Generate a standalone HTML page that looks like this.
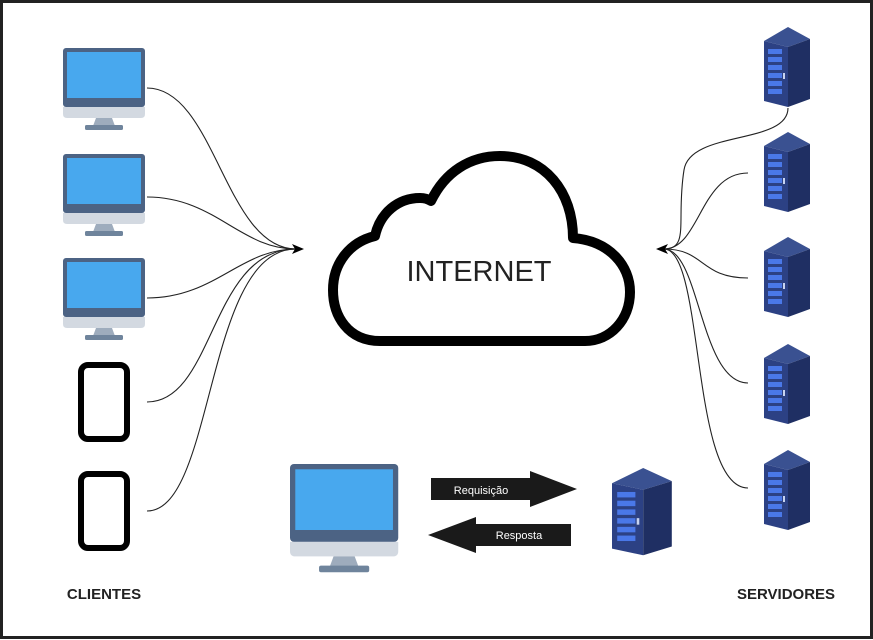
<!DOCTYPE html>
<html><head><meta charset="utf-8"><style>
html,body{margin:0;padding:0;background:#fff;}
svg{display:block;font-family:"Liberation Sans","DejaVu Sans",sans-serif;}
</style></head><body>
<svg width="873" height="640" viewBox="0 0 873 640" xmlns="http://www.w3.org/2000/svg">
<defs>
<g id="mon">
 <rect x="0" y="0" width="82" height="59" rx="3" fill="#4c6384"/>
 <rect x="4" y="4" width="74" height="46" fill="#48a8ee"/>
 <path d="M0 59 H82 V66 Q82 70 78 70 H4 Q0 70 0 66Z" fill="#d3d9e1"/>
 <polygon points="33,70 49,70 52,78 30,78" fill="#9eacbd"/>
 <rect x="22" y="77" width="38" height="5" rx="1.5" fill="#6f849c"/>
</g>
<g id="srv">
 <polygon points="0,14 24,0 46,12 24,20" fill="#3a5191"/>
 <polygon points="0,14 24,20 24,80 0,74" fill="#2c4184"/>
 <polygon points="24,20 46,12 46,72 24,80" fill="#1f2f63"/>
 <g fill="#4a78e8">
  <rect x="4" y="22" width="14" height="5"/><rect x="4" y="30" width="14" height="5"/>
  <rect x="4" y="38" width="14" height="5"/><rect x="4" y="46" width="14" height="5"/>
  <rect x="4" y="54" width="14" height="5"/><rect x="4" y="62" width="14" height="5"/>
 </g>
 <rect x="19" y="46" width="2" height="6" fill="#c8d4f0"/>
</g>
</defs>
<rect x="1.5" y="1.5" width="870" height="636" fill="#fff" stroke="#222" stroke-width="3"/>

<use href="#mon" x="63" y="48"/>
<use href="#mon" x="63" y="154"/>
<use href="#mon" x="63" y="258"/>
<rect x="81" y="365" width="46" height="74" rx="7" fill="none" stroke="#000" stroke-width="6"/>
<rect x="81" y="474" width="46" height="74" rx="7" fill="none" stroke="#000" stroke-width="6"/>

<g transform="translate(764,27)"><use href="#srv"/></g>
<g transform="translate(764,132)"><use href="#srv"/></g>
<g transform="translate(764,237)"><use href="#srv"/></g>
<g transform="translate(764,344)"><use href="#srv"/></g>
<g transform="translate(764,450)"><use href="#srv"/></g>
<g transform="translate(612,468) scale(1.3,1.09)"><use href="#srv"/></g>

<g fill="none" stroke="#222" stroke-width="1.1">
 <path d="M147 88 C215 88 225 249 296 249"/>
 <path d="M147 197 C215 197 240 249 296 249"/>
 <path d="M147 298 C215 298 240 249 296 249"/>
 <path d="M147 402 C215 402 210 249 296 249"/>
 <path d="M147 511 C215 511 205 249 296 249"/>
 <path d="M748 173 C700 173 700 249 664 249"/>
 <path d="M748 278 C700 278 705 249 664 249"/>
 <path d="M748 383 C700 383 700 249 664 249"/>
 <path d="M748 488 C690 488 705 249 664 249"/>
 <path d="M788 108 C788 145 690 130 684 170 C676 220 690 249 664 249"/>
</g>
<path d="M292 244 L304 249 L292 254 L295 249Z" fill="#000"/>
<path d="M668 244 L656 249 L668 254 L665 249Z" fill="#000"/>

<path d="M380 341 C348 341 333 316 333 290 C333 263 350 242 375 236 C380 213 398 198 420 198 C425 198 428 199 431 201 C445 172 470 156 500 156 C545 156 573 192 573 238 C610 241 630 266 630 292 C630 320 610 341 585 341 Z" fill="#fff" stroke="#000" stroke-width="10" stroke-linejoin="round"/>
<text x="479" y="281" text-anchor="middle" font-size="29" fill="#222">INTERNET</text>

<use href="#mon" x="290" y="464" transform="translate(290,464) scale(1.32) translate(-290,-464)"/>

<polygon points="431,478 530,478 530,471 577,489 530,507 530,500 431,500" fill="#1a1a1a"/>
<text x="481" y="494" text-anchor="middle" font-size="11" fill="#fff">Requisição</text>
<polygon points="571,524 476,524 476,517 428,535 476,553 476,546 571,546" fill="#1a1a1a"/>
<text x="519" y="539" text-anchor="middle" font-size="11" fill="#fff">Resposta</text>

<text x="104" y="599" text-anchor="middle" font-size="15" font-weight="bold" fill="#222">CLIENTES</text>
<text x="786" y="599" text-anchor="middle" font-size="15" font-weight="bold" fill="#222">SERVIDORES</text>
</svg>
</body></html>
